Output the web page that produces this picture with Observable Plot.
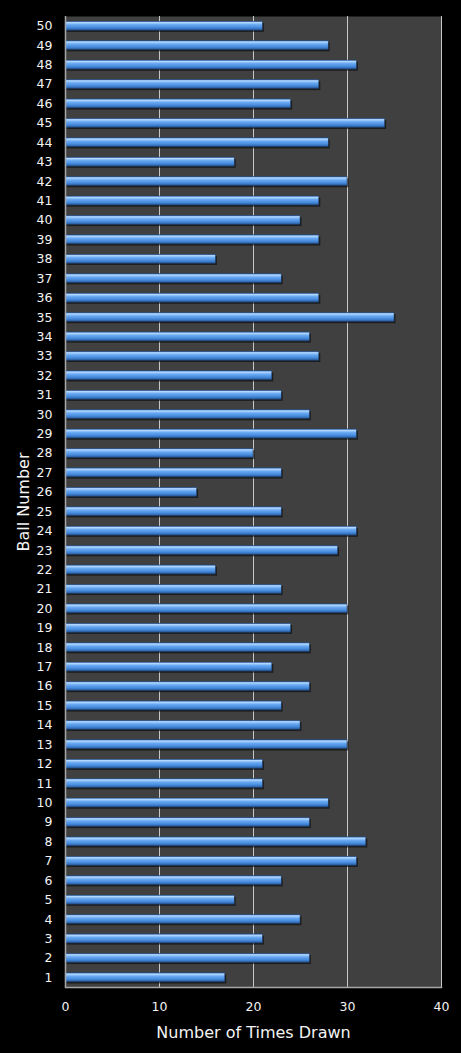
<!DOCTYPE html>
<html>
<head>
<meta charset="utf-8">
<script src="https://cdn.jsdelivr.net/npm/d3@7"></script>
<script src="https://cdn.jsdelivr.net/npm/@observablehq/plot@0.6"></script>
<style>
  html, body { margin: 0; padding: 0; background: #000; }
</style>
</head>
<body>
<div id="chart"></div>
<script>
// ball numbers, 1..50
const balls = [1,2,3,4,5,6,7,8,9,10,11,12,13,14,15,16,17,18,19,20,
  21,22,23,24,25,26,27,28,29,30,31,32,33,34,35,36,37,38,39,40,
  41,42,43,44,45,46,47,48,49,50];
// times each ball was drawn
const timesDrawn = [17,26,21,25,18,23,31,32,26,28,21,21,30,25,23,26,22,26,24,30,
  23,16,29,31,23,14,23,20,31,26,23,22,27,26,35,27,23,16,27,25,
  27,30,18,28,34,24,27,31,28,21];
const xTicks = [0, 10, 20, 30, 40];

const data = balls.map((b, i) => ({ball: String(b), n: timesDrawn[i]}));

// gradient for the glossy bars
const defs = () => {
  const d = d3.create("svg:defs");
  const g = d.append("linearGradient")
    .attr("id", "barGrad")
    .attr("x1", 0).attr("y1", 0).attr("x2", 0).attr("y2", 1);
  [["0%", "#4a86cf"], ["15%", "#b4d8ff"], ["38%", "#6aaaf2"],
   ["72%", "#4589dc"], ["100%", "#24538f"]]
    .forEach(([o, c]) => g.append("stop").attr("offset", o).attr("stop-color", c));
  return d.node();
};

let chart = Plot.plot({
  width: 461,
  height: 1053,
  marginLeft: 65,
  marginRight: 20,
  marginTop: 16,
  marginBottom: 66,
  style: {background: "#000", color: "#f4f4f4", fontFamily: "DejaVu Sans"},
  x: {domain: [0, 40]},
  y: {domain: balls.map(String).reverse(), padding: 0, round: false},
  marks: [
    defs,
    Plot.frame({fill: "#404040"}),
    Plot.ruleX([10, 20, 30, 40], {stroke: "#c8c8c8", strokeWidth: 1}),
    Plot.barX(data, {x: "n", y: "ball", fill: "#000", fillOpacity: 0.55,
      insetTop: 7, insetBottom: 3.5, dx: 1.5}),
    Plot.barX(data, {x: "n", y: "ball", fill: "url(#barGrad)",
      insetTop: 5.2, insetBottom: 5.2, stroke: "#1d3d6b", strokeWidth: 0.5}),
    Plot.ruleX([0], {stroke: "#a6a6a6", strokeWidth: 1.5}),
    Plot.frame({anchor: "bottom", stroke: "#a6a6a6", strokeWidth: 1.5}),
    Plot.axisX({ticks: xTicks, tickSize: 0, tickPadding: 15, fontSize: 12.5,
      label: "Number of Times Drawn", labelAnchor: "center", labelArrow: "none",
      labelOffset: 50}),
    Plot.axisY({tickSize: 0, tickPadding: 13, fontSize: 12.5,
      label: "Ball Number", labelAnchor: "center", labelArrow: "none",
      labelOffset: 48})
  ]
});

d3.select(chart).selectAll("[aria-label='x-axis label'] text, [aria-label='y-axis label'] text")
  .style("font-size", "16px");

d3.select('#chart').append(() => chart);
</script>
</body>
</html>
